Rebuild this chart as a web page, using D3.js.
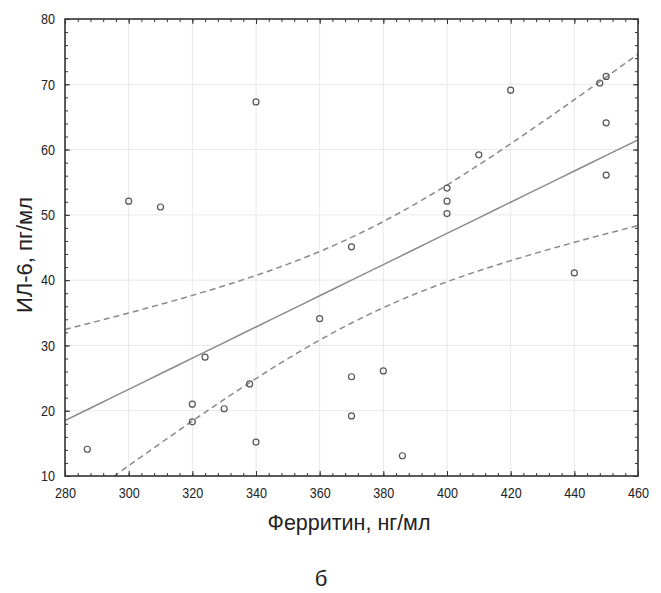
<!DOCTYPE html>
<html lang="ru">
<head>
<meta charset="utf-8">
<title>Ферритин / ИЛ-6</title>
<script src="https://cdnjs.cloudflare.com/ajax/libs/d3/7.8.5/d3.min.js"></script>
<style>
  body { margin: 0; background: #fff; }
  svg { display: block; font-family: "Liberation Sans", Arial, sans-serif; }
  .tick text { font-size: 15px; fill: #222; }
  .grid line { stroke: #e8e8e8; stroke-width: 1; }
</style>
</head>
<body>
<svg width="661" height="593"></svg>
<script>
// values
var ferritin = [287, 300, 310, 320, 320, 324, 330, 338, 340, 340, 360, 370, 370, 370, 380, 386,
                400, 400, 400, 410, 420, 440, 448, 450, 450, 450];
var il6      = [14.1, 52.1, 51.2, 21.0, 18.3, 28.2, 20.3, 24.1, 15.2, 67.3, 34.1, 45.1, 25.2, 19.2, 26.1, 13.1,
                54.1, 52.1, 50.2, 59.2, 69.1, 41.1, 70.2, 71.2, 64.1, 56.1];
var xTicks = [280, 300, 320, 340, 360, 380, 400, 420, 440, 460];
var yTicks = [10, 20, 30, 40, 50, 60, 70, 80];

var svg = d3.select("svg");
var margin = {left: 65, top: 19, right: 23, bottom: 117};
var W = 661 - margin.left - margin.right,
    H = 593 - margin.top - margin.bottom;

var x = d3.scaleLinear().domain([280, 460]).range([0, W]);
var y = d3.scaleLinear().domain([10, 80]).range([H, 0]);

var g = svg.append("g").attr("transform", "translate(" + margin.left + "," + margin.top + ")");

// grid
g.append("g").attr("class", "grid").selectAll("line").data(xTicks.slice(1, -1)).enter().append("line")
  .attr("x1", d => x(d)).attr("x2", d => x(d)).attr("y1", 0).attr("y2", H);
g.append("g").attr("class", "grid").selectAll("line").data(yTicks.slice(1, -1)).enter().append("line")
  .attr("y1", d => y(d)).attr("y2", d => y(d)).attr("x1", 0).attr("x2", W);

// linear regression + 95% confidence band for the mean
var n = ferritin.length;
var mx = d3.mean(ferritin), my = d3.mean(il6);
var sxx = d3.sum(ferritin, v => (v - mx) * (v - mx));
var sxy = d3.sum(ferritin, (v, i) => (v - mx) * (il6[i] - my));
var b = sxy / sxx, a = my - b * mx;
var sse = d3.sum(ferritin, (v, i) => Math.pow(il6[i] - (a + b * v), 2));
var s = Math.sqrt(sse / (n - 2));
var t = 2.064; // t(0.975, df=24)

var xs = d3.range(280, 460.1, 5);
var band = xs.map(function(v) {
  var fit = a + b * v;
  var h = t * s * Math.sqrt(1 / n + (v - mx) * (v - mx) / sxx);
  return {x: v, fit: fit, lo: fit - h, hi: fit + h};
});

g.append("clipPath").attr("id", "clip").append("rect").attr("width", W).attr("height", H);
var lines = g.append("g").attr("clip-path", "url(#clip)");

lines.append("path").datum(band)
  .attr("d", d3.line().x(d => x(d.x)).y(d => y(d.fit)))
  .attr("fill", "none").attr("stroke", "#8a8a8a").attr("stroke-width", 1.5);
["lo", "hi"].forEach(function(k) {
  lines.append("path").datum(band)
    .attr("d", d3.line().x(d => x(d.x)).y(d => y(d[k])))
    .attr("fill", "none").attr("stroke", "#8a8a8a").attr("stroke-width", 1.5)
    .attr("stroke-dasharray", "6,4");
});

// points
g.append("g").selectAll("circle").data(ferritin).enter().append("circle")
  .attr("cx", d => x(d)).attr("cy", (d, i) => y(il6[i])).attr("r", 3)
  .attr("fill", "none").attr("stroke", "#555").attr("stroke-width", 1.2);

// axes: ticks inside, all four sides
function minor(axisFn, scale, vals) {
  return axisFn(scale).tickValues(vals).tickSize(-3).tickFormat("");
}
var xMinor = d3.range(280, 461, 4), yMinor = d3.range(10, 81, 2);

g.append("g").attr("transform", "translate(0," + H + ")").call(minor(d3.axisBottom, x, xMinor));
g.append("g").call(minor(d3.axisTop, x, xMinor));
g.append("g").call(minor(d3.axisLeft, y, yMinor));
g.append("g").attr("transform", "translate(" + W + ",0)").call(minor(d3.axisRight, y, yMinor));

var xAxis = g.append("g").attr("transform", "translate(0," + H + ")")
  .call(d3.axisBottom(x).tickValues(xTicks).tickSize(-5).tickPadding(11));
var yAxis = g.append("g")
  .call(d3.axisLeft(y).tickValues(yTicks).tickSize(-5).tickPadding(12));
g.append("g").call(d3.axisTop(x).tickValues(xTicks).tickSize(-5).tickFormat(""));
g.append("g").attr("transform", "translate(" + W + ",0)")
  .call(d3.axisRight(y).tickValues(yTicks).tickSize(-5).tickFormat(""));

// condensed tick labels like the original
xAxis.selectAll(".tick text").attr("transform", "scale(0.84,1)");
yAxis.selectAll(".tick text").attr("transform", "scale(0.84,1)");

g.selectAll(".domain").attr("stroke", "none");
g.selectAll(".tick line").attr("stroke", "#333");

// frame
g.append("rect").attr("width", W).attr("height", H)
  .attr("fill", "none").attr("stroke", "#333").attr("stroke-width", 1.6);

// labels
svg.append("text").attr("x", 349).attr("y", 530)
  .attr("text-anchor", "middle").attr("font-size", 21.5).attr("fill", "#222")
  .text("Ферритин, нг/мл");
svg.append("text").attr("transform", "translate(32,255) rotate(-90)")
  .attr("text-anchor", "middle").attr("font-size", 22).attr("fill", "#222")
  .text("ИЛ-6, пг/мл");
svg.append("text").attr("x", 321).attr("y", 586)
  .attr("text-anchor", "middle").attr("font-size", 22).attr("fill", "#222")
  .text("б");
</script>
</body>
</html>
